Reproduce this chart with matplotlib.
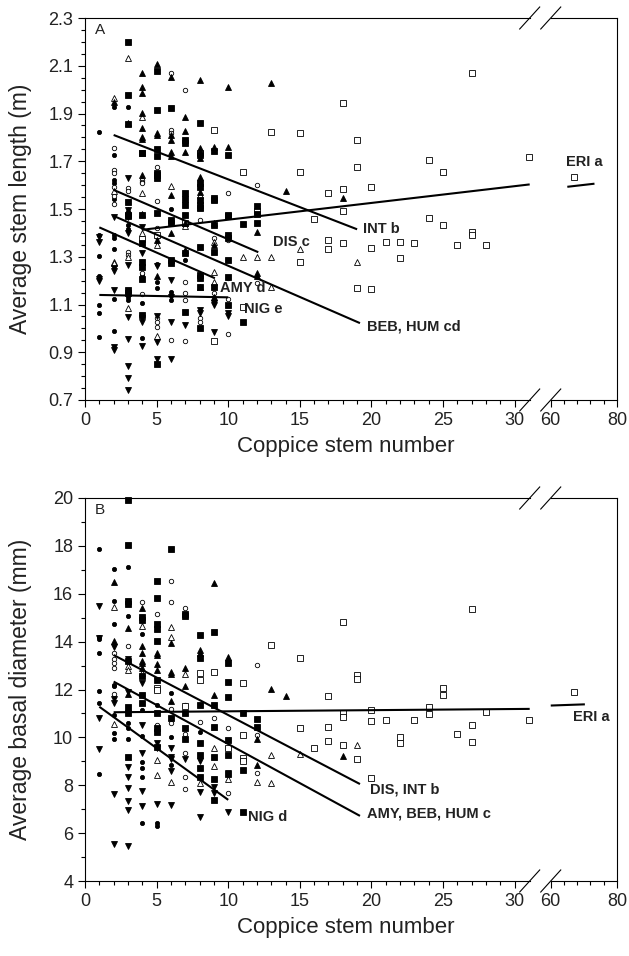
import numpy as np
import matplotlib
matplotlib.use('Agg')
import matplotlib.pyplot as plt

plt.rcParams['font.family'] = ['Liberation Sans', 'DejaVu Sans']

# ---------------------------------------------------------------- data
# values keyed by coppice stem number, panel A = stem length (m)
amy_len = {1: [1.824, 1.391, 1.303, 1.221, 1.10, 1.063, 0.965],
           2: [1.929, 1.726, 1.621, 1.607, 1.54, 1.391, 1.377, 1.331, 1.123, 0.989],
           3: [1.929, 1.433, 1.415, 1.133, 1.12], 4: [1.223, 1.105, 0.958],
           5: [1.27, 1.196, 1.168], 6: [1.498, 1.154, 1.14, 1.12], 7: [1.286]}
beb_len = {2: [1.754, 1.663, 1.652, 1.593, 1.554, 1.521], 3: [1.587, 1.577, 1.318, 1.307],
           4: [1.621, 1.615, 1.607, 1.23, 1.143],
           5: [1.677, 1.533, 1.419, 1.384, 1.042, 1.028, 1.007],
           6: [2.068, 1.831, 1.82, 1.454, 0.951], 7: [1.998, 1.447, 1.196, 1.147, 1.119, 0.948],
           8: [1.454, 1.21, 1.042, 1.028], 9: [1.377, 1.147, 1.119],
           10: [1.566, 1.37, 1.21, 1.121, 0.976], 12: [1.6, 1.189]}
dis_len = {2: [1.966, 1.577, 1.279, 1.272], 3: [2.131, 1.30, 1.084], 4: [1.884, 1.569, 1.40],
           5: [1.35, 0.968], 6: [1.596], 7: [1.43], 8: [1.559], 9: [1.363, 1.238, 1.196],
           11: [1.30], 12: [1.298], 13: [1.30, 1.172], 15: [1.332], 19: [1.279]}
eri_len = {4: [1.736, 1.373], 5: [1.39], 7: [1.44], 8: [1.736], 9: [1.831, 0.948],
           11: [1.656, 1.088], 12: [1.491], 13: [1.824], 15: [1.817, 1.656, 1.279],
           16: [1.457], 17: [1.569, 1.37, 1.331], 18: [1.943, 1.584, 1.493, 1.357],
           19: [1.789, 1.677, 1.168], 20: [1.591, 1.335, 1.165], 21: [1.36],
           22: [1.363, 1.295], 23: [1.359], 24: [1.705, 1.461], 25: [1.654, 1.432],
           26: [1.348], 27: [2.068, 1.404, 1.39], 28: [1.348], 31: [1.716], 67: [1.634]}
hum_len = {3: [2.201, 1.977, 1.856, 1.53, 1.475, 1.471, 1.161, 1.15],
           4: [1.736, 1.475, 1.356, 1.279, 1.258, 1.205, 1.056],
           5: [2.078, 1.915, 1.752, 1.72, 1.649, 1.642, 1.628, 1.482, 0.849],
           6: [1.922, 1.454, 1.443, 1.286, 1.272],
           7: [1.789, 1.778, 1.566, 1.54, 1.517, 1.475, 1.314, 1.07],
           8: [1.859, 1.726, 1.607, 1.593, 1.538, 1.517, 1.503, 1.342, 1.223, 1.21, 1.175, 1.0],
           9: [1.743, 1.545, 1.538, 1.433, 1.321, 1.175],
           10: [1.726, 1.475, 1.47, 1.391, 1.38, 1.286, 1.216, 1.098],
           11: [1.437, 1.028], 12: [1.514, 1.479, 1.44]}
int_len = {2: [1.95], 3: [1.86, 1.496],
           4: [2.068, 2.009, 1.984, 1.901, 1.838, 1.803, 1.792, 1.642, 1.48],
           5: [2.106, 1.817, 1.81, 1.37, 1.22],
           6: [2.054, 1.81, 1.789, 1.74, 1.72, 1.559, 1.398],
           7: [1.884, 1.827, 1.74, 1.44, 1.328],
           8: [2.04, 1.754, 1.74, 1.712, 1.635, 1.572, 1.51, 1.175],
           9: [1.761, 1.54, 1.44, 1.349, 1.133], 10: [2.012, 1.761],
           12: [1.402, 1.23, 1.219], 13: [2.026], 14: [1.577], 18: [1.546]}
nig_len = {1: [1.382, 1.362, 1.208, 1.199], 2: [1.468, 1.251, 1.242, 1.161, 0.923, 0.909],
           3: [1.628, 1.495, 1.465, 1.398, 1.265, 1.046, 0.954, 0.844, 0.791, 0.742],
           4: [1.423, 1.314, 1.042, 1.028, 0.927], 5: [1.261, 1.053, 0.944, 0.870],
           6: [1.203, 1.13, 1.028, 0.870], 7: [1.014], 8: [1.077, 1.063],
           9: [1.108, 1.098, 0.986], 10: [1.063, 1.052]}

# panel B = basal diameter (mm)
amy_dia = {1: [17.86, 14.21, 14.1, 13.54, 11.95, 11.45, 8.47],
           2: [17.05, 15.70, 14.74, 12.19, 12.15, 10.94, 10.2, 9.92],
           3: [17.10, 15.07, 10.62, 10.41, 9.92], 4: [14.31, 11.14, 10.06, 8.99, 8.71, 8.36, 6.41],
           5: [11.35, 6.41, 6.30], 6: [11.84, 10.03, 8.85], 8: [10.24]}
beb_dia = {2: [13.51, 13.26, 13.1, 12.88, 11.81], 3: [13.82], 4: [15.67], 5: [15.16, 10.52],
           6: [16.55, 15.64, 11.2, 10.6], 7: [15.42, 11.35, 10.14, 9.34, 8.36, 7.83],
           8: [10.66], 9: [10.8], 10: [10.41, 7.69], 12: [13.02, 10.10, 8.53]}
dis_dia = {2: [15.46, 10.56], 3: [13.0, 12.81], 4: [14.65, 12.7], 5: [9.06, 8.43],
           6: [14.63, 14.21, 8.15], 7: [12.65], 8: [8.11], 9: [9.54, 8.81], 10: [8.25],
           12: [8.15], 13: [9.27, 8.08], 15: [9.31], 19: [9.68]}
eri_dia = {5: [12.05, 12.0], 7: [11.3], 8: [12.68, 12.4], 9: [12.75], 10: [9.54],
           11: [12.26, 10.10, 9.13, 9.03], 13: [13.86], 15: [13.30, 10.38], 16: [9.54],
           17: [11.73, 10.45, 9.85], 18: [14.81, 11.03, 10.87, 9.68], 19: [12.61, 12.43, 9.08],
           20: [11.14, 10.70, 8.29], 21: [10.73], 22: [10.03, 9.78], 23: [10.73],
           24: [11.26, 10.96], 25: [12.05, 11.77], 26: [10.13], 27: [15.35, 10.52, 9.82],
           28: [11.08], 31: [10.73], 67: [11.88]}
hum_dia = {3: [19.92, 18.04, 15.70, 15.56, 13.2, 11.26, 11.01, 9.17],
           4: [15.04, 14.90, 12.57, 11.77, 11.45],
           5: [16.53, 15.84, 14.74, 14.51, 14.04, 12.4, 11.0, 10.38, 10.24, 9.6],
           6: [17.87, 10.8], 7: [15.14, 15.07, 11.0, 10.41, 9.95],
           8: [14.28, 13.30, 11.35, 9.78, 9.27, 8.71, 8.36],
           9: [14.42, 11.35, 10.45, 9.17, 8.26, 7.38],
           10: [13.09, 12.33, 11.7, 9.89, 9.27, 8.46], 11: [11.01, 8.64, 6.90], 12: [10.77, 10.45]}
int_dia = {2: [16.48, 14.03], 3: [14.56, 11.8], 4: [15.42, 13.82, 13.51, 13.21, 13.1, 12.88],
           5: [13.54, 13.44, 13.07, 12.81], 6: [13.96, 12.75, 12.65, 11.53],
           7: [12.88, 12.15], 8: [13.65, 13.54], 9: [16.44, 11.77], 10: [13.37],
           12: [9.92, 8.85], 13: [12.01], 14: [11.73], 18: [9.24]}
nig_dia = {1: [15.50, 14.14, 10.83, 9.52], 2: [13.76, 11.6, 11.45, 7.64, 5.53],
           3: [13.26, 11.9, 8.75, 8.36, 7.87, 7.36, 6.97, 5.48],
           4: [12.26, 10.52, 9.36, 7.76, 7.14], 5: [9.75, 9.54, 7.21],
           6: [9.54, 9.2, 9.1, 8.6, 7.18], 7: [9.09], 8: [9.0, 7.73, 6.66],
           9: [7.94, 7.66], 10: [8.5, 6.90]}

# fitted lines: (x0, x1), (y0, y1)
fits_len = {'INT b': ([2, 19], [1.81, 1.415]),
            'ERI a': ([4, 31.05], [1.413, 1.603]),
            'ERI a stub': ([65, 73.2], [1.593, 1.606]),
            'DIS c': ([2, 12.1], [1.58, 1.319]),
            'BEB, HUM cd': ([2, 19.2], [1.471, 1.022]),
            'AMY d': ([1, 9.07], [1.423, 1.21]),
            'NIG e': ([1, 10], [1.14, 1.13])}
fits_dia = {'ERI a': ([2, 31.05], [11.05, 11.19]),
            'ERI a stub': ([60, 70.3], [11.33, 11.38]),
            'DIS, INT b': ([2, 19.2], [13.44, 8.05]),
            'AMY, BEB, HUM c': ([2, 19.2], [12.33, 6.72]),
            'NIG d': ([1, 10], [11.28, 7.39])}

# label positions (left edge, vertical centre)
labels_len = {'ERI a': (64.5, 1.697), 'INT b': (19.4, 1.415), 'BEB, HUM cd': (19.7, 1.007),
              'DIS c': (13.1, 1.362), 'AMY d': (9.4, 1.168), 'NIG e': (11.1, 1.081)}
labels_dia = {'ERI a': (66.6, 10.84), 'DIS, INT b': (19.9, 7.83),
              'AMY, BEB, HUM c': (19.7, 6.80), 'NIG d': (11.4, 6.66)}

# ---------------------------------------------------------------- broken x scale
A, B, FB, K = 31.5, 60.0, 32.52, 0.2313


def fwd(x):
    x = np.asarray(x, dtype=float)
    return np.where(x <= A, x, np.where(x < B, A + (x - A) * (FB - A) / (B - A), FB + (x - B) * K))


def inv(u):
    u = np.asarray(u, dtype=float)
    return np.where(u <= A, u, np.where(u < FB, A + (u - A) * (B - A) / (FB - A), B + (u - FB) / K))


styles = [('o', 'k', 3.0), ('o', 'white', 3.2), ('^', 'white', 4.2), ('s', 'white', 3.8),
          ('s', 'k', 3.8), ('^', 'k', 4.2), ('v', 'k', 4.2)]
TXT = '#222222'


def draw_panel(ax, groups, fits, labels, ylim, yticks, yminor, ylabel, letter):
    for data, (m, fc, ms) in zip(groups, styles):
        xs = [k for k, v in data.items() for _ in v]
        ys = [y for v in data.values() for y in v]
        ax.plot(xs, ys, linestyle='none', marker=m, ms=ms, mfc=fc, mec='k', mew=0.6,
                clip_on=False, zorder=3)
    for name, (fx, fy) in fits.items():
        ax.plot(fx, fy, color='k', lw=1.5, solid_capstyle='butt', zorder=4)
    for name, (lx, ly) in labels.items():
        ax.text(lx, ly, name, ha='left', va='center', fontsize=10.5, fontweight='bold',
                color=TXT, zorder=5)

    ax.set_xscale('function', functions=(fwd, inv))
    ax.set_xlim(0, 80)
    ax.set_ylim(*ylim)
    ax.set_xticks([0, 5, 10, 15, 20, 25, 30, 60, 80])
    ax.set_xticks(list(range(0, 31)) + [64, 68, 72, 76], minor=True)
    ax.set_yticks(yticks)
    ax.set_yticks(yminor, minor=True)
    ax.tick_params(which='both', direction='out', colors='k', labelcolor=TXT, labelsize=13,
                   width=0.8, top=False, right=False)
    ax.tick_params(which='major', length=5)
    ax.tick_params(which='minor', length=3)
    ax.set_xlabel('Coppice stem number', fontsize=16, color=TXT)
    ax.set_ylabel(ylabel, fontsize=16.5, color=TXT)
    ax.xaxis.set_label_coords(0.49, -0.094)
    ax.yaxis.set_label_coords(-0.1, 0.5)
    ax.text(0.018, 0.968, letter, transform=ax.transAxes, fontsize=11, color=TXT,
            ha='left', va='center')

    # frame with a gap at the axis break
    for s in ('top', 'bottom'):
        ax.spines[s].set_visible(False)
    for s in ('left', 'right'):
        ax.spines[s].set_linewidth(0.8)
    xt = ax.get_xaxis_transform()
    for yb in (0, 1):
        ax.plot([0, 31.05], [yb, yb], color='k', lw=0.8, transform=xt, clip_on=False)
        ax.plot([60, 80], [yb, yb], color='k', lw=0.8, transform=xt, clip_on=False)
    span = float(fwd(80) - fwd(0))
    dx, dy = 10 / 532, 11 / 382
    for xb in (31.05, 60):
        xf = float(fwd(xb)) / span
        for yb in (0, 1):
            ax.plot([xf - dx, xf + dx], [yb - dy, yb + dy], color='k', lw=0.8,
                    transform=ax.transAxes, clip_on=False)


fig = plt.figure(figsize=(6.29, 9.56), dpi=100)
ax1 = fig.add_axes([85 / 629, 1 - 400 / 956, 532 / 629, 382 / 956])
ax2 = fig.add_axes([85 / 629, 1 - 881 / 956, 532 / 629, 383 / 956])

draw_panel(ax1, [amy_len, beb_len, dis_len, eri_len, hum_len, int_len, nig_len],
           fits_len, labels_len, (0.7, 2.3), np.arange(0.7, 2.31, 0.2),
           np.arange(0.7, 2.31, 0.05), 'Average stem length (m)', 'A')
ax1.yaxis.set_major_formatter(matplotlib.ticker.FormatStrFormatter('%.1f'))
draw_panel(ax2, [amy_dia, beb_dia, dis_dia, eri_dia, hum_dia, int_dia, nig_dia],
           fits_dia, labels_dia, (4, 20), np.arange(4, 21, 2),
           np.arange(4, 21, 1), 'Average basal diameter (mm)', 'B')

fig.savefig('out.png', dpi=100)
